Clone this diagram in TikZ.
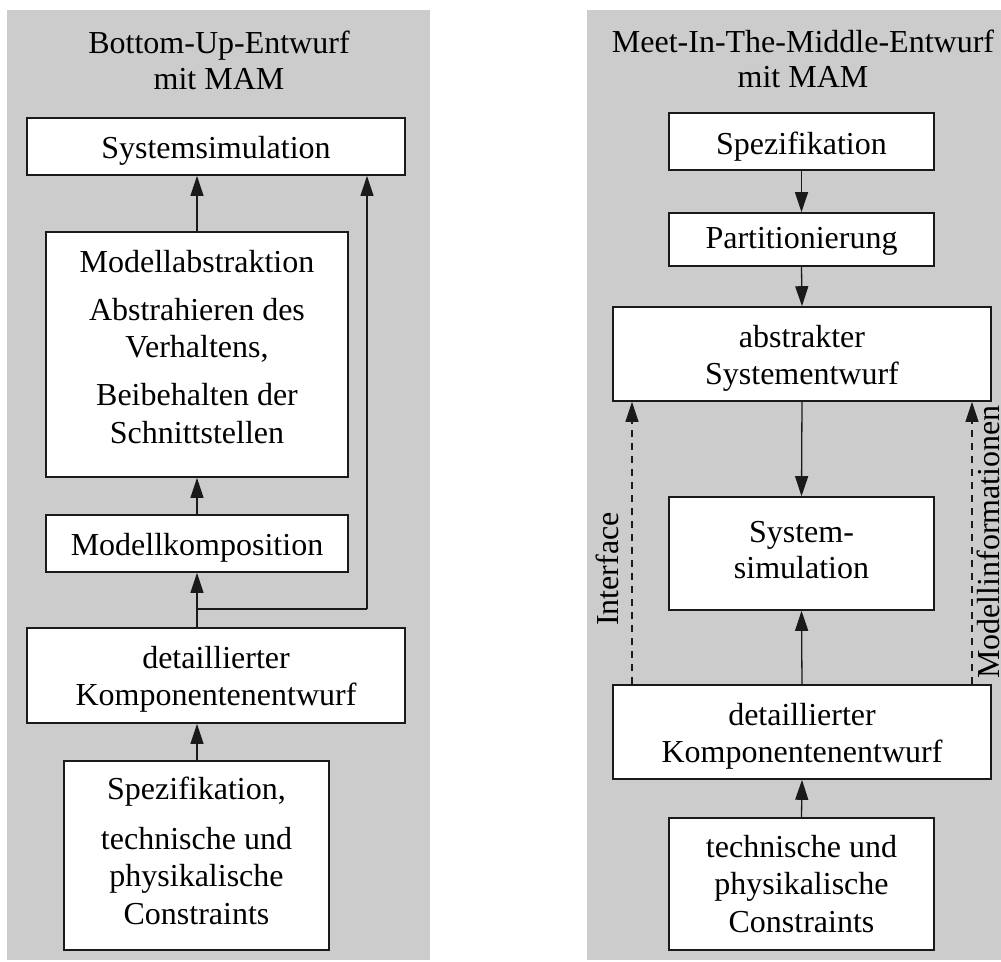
\documentclass[tikz,border=0pt]{standalone}
\usepackage{fontspec}
\setmainfont{Liberation Serif}
\usetikzlibrary{arrows.meta}
\definecolor{panelgrey}{HTML}{CCCCCC}
\definecolor{inkline}{HTML}{1A1A1A}
\newcommand{\celltext}[1]{\begin{tabular}[t]{@{}c@{}}#1\end{tabular}}
\tikzset{
  box/.style={draw=inkline, fill=white, line width=1.6pt, inner sep=0pt, anchor=base,
              font=\fontsize{32}{37.5}\selectfont},
  wide/.style={minimum width=378pt},
  narrow/.style={minimum width=265pt},
  mid/.style={minimum width=302pt},
  title/.style={inner sep=0pt, anchor=base, font=\fontsize{32}{37.5}\selectfont},
  arr/.style={draw=inkline, line width=1.3pt, -{Triangle[length=20pt,width=13pt]}},
  dasharr/.style={arr, line width=1.1pt, dash pattern=on 7pt off 6pt},
  sidelabel/.style={inner sep=0pt, anchor=base, rotate=90, font=\fontsize{32}{37.5}\selectfont}
}
\begin{document}
\begin{tikzpicture}[x=1pt,y=-1pt]
\useasboundingbox (0,0) rectangle (1001,961);
% grey panels
\fill[panelgrey] (7,10) rectangle (430,960);
\fill[panelgrey] (587,10) rectangle (1010,960);

% ---------- Bottom-Up ----------
\node[title] (Ltitle) at (219,53) {\celltext{Bottom-Up-Entwurf\\[-1.5pt] mit MAM}};
\node[box, wide, text height=40pt, text depth=17pt] (L1) at (216,158)
  {\celltext{Systemsimulation}};
\node[box, mid, text height=40pt, text depth=205pt] (L2) at (197,272)
  {\celltext{Modellabstraktion\\[10.5pt] Abstrahieren des\\ Verhaltens,\\[10.5pt] Beibehalten der\\ Schnittstellen}};
\node[box, mid, text height=40pt, text depth=17pt] (L3) at (197,555)
  {\celltext{Modellkomposition}};
\node[box, wide, text height=40pt, text depth=55pt] (L4) at (216,668)
  {\celltext{detaillierter\\ Komponentenentwurf}};
\node[box, narrow, text height=38pt, text depth=151pt] (L5) at (196.5,799)
  {\celltext{Spezifikation,\\[12.5pt] technische und\\ physikalische\\ Constraints}};

\coordinate (J) at (197,609);
\coordinate (Jr) at (367,609);
\draw[arr] (L2.north) -- (L2.north |- L1.south);
\draw[arr] (L3.north) -- (L3.north |- L2.south);
\draw[arr] (L3.south |- L4.north) -- (L3.south);
\draw[draw=inkline, line width=1.3pt] (J) -- (Jr);
\draw[arr] (Jr) -- (Jr |- L1.south);
\draw[arr] (L5.north -| J) -- (L4.south -| J);

% ---------- Meet-In-The-Middle ----------
\node[title] (Rtitle) at (803,52) {\celltext{Meet-In-The-Middle-Entwurf\\[-1.5pt] mit MAM}};
\node[box, narrow, text height=41pt, text depth=16pt] (R1) at (801.5,154)
  {\celltext{Spezifikation}};
\node[box, narrow, text height=35pt, text depth=18pt] (R2) at (801.5,248)
  {\celltext{Partitionierung}};
\node[box, wide, text height=40pt, text depth=54pt] (R3) at (802,347)
  {\celltext{abstrakter\\ Systementwurf}};
\node[box, narrow, text height=45pt, text depth=68pt] (R4) at (801.5,542)
  {\celltext{System-\\[-1.5pt] simulation}};
\node[box, wide, text height=40pt, text depth=54pt] (R5) at (802,725)
  {\celltext{detaillierter\\ Komponentenentwurf}};
\node[box, narrow, text height=39pt, text depth=93pt] (R6) at (801.5,857)
  {\celltext{technische und\\ physikalische\\ Constraints}};

\draw[arr] (R1.south) -- (R2.north);
\draw[arr] (R2.south) -- (R3.north);
\draw[arr] (R3.south) -- (R4.north);
\draw[arr] (R5.north) -- (R4.south);
\draw[arr] (R6.north) -- (R5.south);

\coordinate (Dl) at (632,0);
\coordinate (Dr) at (972,0);
\draw[dasharr] (R5.north -| Dl) -- (R3.south -| Dl);
\draw[dasharr] (R5.north -| Dr) -- (R3.south -| Dr);
\node[sidelabel] (Iface) at (618,569) {Interface};
\node[sidelabel] (Minfo) at (999.5,542) {Modellinformationen};
\end{tikzpicture}
\end{document}
